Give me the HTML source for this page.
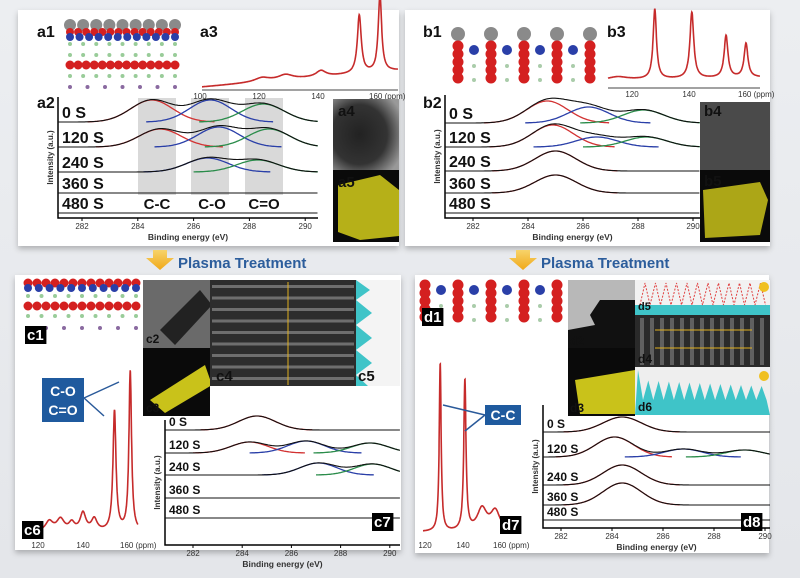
<!DOCTYPE html>
<html><head><meta charset="utf-8"><style>
html,body{margin:0;padding:0;background:#e9ebee;}
svg{display:block;font-family:"Liberation Sans",sans-serif;}
</style></head><body>
<svg id="fig" width="800" height="578" viewBox="0 0 800 578">
<defs>
<linearGradient id="bg" x1="0" y1="0" x2="0" y2="1"><stop offset="0" stop-color="#eceef1"/><stop offset="1" stop-color="#e4e6ea"/></linearGradient>
<linearGradient id="arrowG" x1="0" y1="0" x2="0" y2="1"><stop offset="0" stop-color="#f7d36a"/><stop offset="1" stop-color="#f0a818"/></linearGradient>
<radialGradient id="tem" cx="0.4" cy="0.5" r="0.7"><stop offset="0" stop-color="#222"/><stop offset="0.6" stop-color="#333"/><stop offset="1" stop-color="#999"/></radialGradient>
<filter id="sh" x="-5%" y="-5%" width="110%" height="115%"><feDropShadow dx="0" dy="3" stdDeviation="3" flood-color="#000" flood-opacity="0.25"/></filter>
</defs>
<rect width="800" height="578" fill="url(#bg)"/>
<rect x="18" y="10" width="381" height="236" fill="#fff" filter="url(#sh)"/>
<rect x="405" y="10" width="365" height="236" fill="#fff" filter="url(#sh)"/>
<rect x="15" y="275" width="386" height="275" fill="#fff" filter="url(#sh)"/>
<rect x="415" y="275" width="354" height="278" fill="#fff" filter="url(#sh)"/>

<g><path d="M153 250h14v8h7l-14 12-14-12h7z" fill="url(#arrowG)"/></g>
<text x="178" y="268" font-size="15" font-weight="bold" fill="#2c5d9c">Plasma Treatment</text>
<g><path d="M516 250h14v8h7l-14 12-14-12h7z" fill="url(#arrowG)"/></g>
<text x="541" y="268" font-size="15" font-weight="bold" fill="#2c5d9c">Plasma Treatment</text>

<g id="layer"></g>
</svg>
<script>
// ---------- DATA ----------
const timeLabels = ["0 S","120 S","240 S","360 S","480 S"];
const xpsTicks = [282,284,286,288,290];
// peaks per row: [centre eV, height px, component 0=C-C red,1=C-O blue,2=C=O green]
const xpsA = [[[284.5,22,0],[286.6,22,1],[288.5,18,2]],[[284.8,18,0],[286.9,20,1],[288.7,18,2]],[[286.5,14,1],[288.3,12,2]],[],[]];
const xpsB = [[[284.7,22,0],[286.2,16,1],[288.2,13,2]],[[284.9,22,0],[286.5,10,1],[288.3,10,2]],[[285.0,20,0]],[[285.0,18,0]],[]];
const xpsC = [[[284.6,14,0]],[[284.3,11,0],[286.6,12,1],[289.2,10,2]],[[287.1,12,1],[289.3,11,2]],[],[]];
const xpsD = [[[284.4,15,0]],[[284.1,20,0],[286.8,8,1],[289.2,7,2]],[[284.4,20,0]],[[284.4,22,0]],[]];
// NMR peaks: [ppm, height px, width ppm]
const nmrA = [[154,58,0.8],[161,76,0.7],[141,6,2],[129,5,3],[121,4,3]];
const nmrATicks = [100,120,140,160];
const nmrB = [[128,70,0.7],[141,66,0.8],[153,42,0.8],[160,34,0.8],[115,3,4]];
const nmrBTicks = [120,140,160];
const nmrC = [[154,120,0.8],[161,160,0.7],[140,18,1.5],[145,12,1.5],[130,12,2],[135,8,1.5],[125,10,2]];
const nmrCTicks = [120,140,160];
const nmrD = [[128,168,0.6],[141,150,0.7],[150,22,3],[157,20,3]];
const nmrDTicks = [120,140,160];

// ---------- helpers ----------
const NS="http://www.w3.org/2000/svg";
const L=document.getElementById('layer');
function mk(t,a,p){const e=document.createElementNS(NS,t);for(const k in a)e.setAttribute(k,a[k]);(p||L).appendChild(e);return e;}
const compCol=["#d23232","#2a3fa8","#2a8c4a"];
function gauss(x,c,s){return Math.exp(-((x-c)*(x-c))/(2*s*s));}

function xpsPanel(cfg,data,prefix){
  const sx=e=>cfg.x0+(e-282)*cfg.k;
  const ex=x=>282+(x-cfg.x0)/cfg.k;
  const eMin=ex(cfg.ax), eMax=ex(cfg.right);
  const g=mk('g',{});
  
  
  const ax=mk('path',{d:`M${cfg.ax} ${cfg.top}V${cfg.bot}H${cfg.right}`,stroke:'#000','stroke-width':1.5,fill:'none'},g);
  
  
  xpsTicks.forEach(t=>{
    mk('line',{x1:sx(t),x2:sx(t),y1:cfg.bot,y2:cfg.bot+3,stroke:'#000'},g);
    const tl=mk('text',{x:sx(t),y:cfg.bot+11,'font-size':8,'text-anchor':'middle',fill:'#333'},g);
    tl.textContent=t;
    
    
  });
  const xt=mk('text',{x:(cfg.ax+cfg.right)/2,y:cfg.bot+22,'font-size':8.5,'font-weight':'bold','text-anchor':'middle',fill:'#333'},g);
  xt.textContent='Binding energy (eV)';
  
  
  const yt=mk('text',{x:0,y:0,'font-size':8,'font-weight':'bold','text-anchor':'middle',fill:'#333',transform:`translate(${cfg.ax-5},${(cfg.top+cfg.bot)/2}) rotate(-90)`},g);
  yt.textContent='Intensity (a.u.)';
  
  
  data.forEach((row,i)=>{
    const by=cfg.base[i];
    const lab=mk('text',{x:cfg.ax+4,y:by-4,'font-size':cfg.fs,'font-weight':'bold',fill:'#111'},g);
    lab.textContent=timeLabels[i];
    
    
    row.forEach(p=>{
      let d='';
      const a=Math.max(eMin,p[0]-2.3), b=Math.min(eMax,p[0]+2.3);
      for(let e=a;e<=b;e+=0.05){d+=(d?'L':'M')+sx(e).toFixed(1)+' '+(by-p[1]*gauss(e,p[0],0.75)).toFixed(1);}
      const c=mk('path',{d,stroke:compCol[p[2]],'stroke-width':1.3,fill:'none'},g);
      
      
    });
    let d='';
    for(let e=eMin;e<=eMax;e+=0.05){let v=0;row.forEach(p=>v+=p[1]*gauss(e,p[0],0.75));d+=(d?'L':'M')+sx(e).toFixed(1)+' '+(by-v).toFixed(1);}
    const env=mk('path',{d,stroke:'#111','stroke-width':1.1,fill:'none'},g);
    
    
  });
}
function nmrPanel(cfg,peaks,ticks,prefix){
  const sx=p=>cfg.x0+(p-ticks[0])*cfg.k;
  const g=mk('g',{});
  
  
  if(cfg.axis){const a=mk('line',{x1:cfg.xa,x2:cfg.xb,y1:cfg.ay,y2:cfg.ay,stroke:'#444'},g);
    }
  ticks.forEach((t,i)=>{
    const tl=mk('text',{x:sx(t),y:cfg.ty,'font-size':8,'text-anchor':'middle',fill:'#333'},g);
    tl.textContent=t+(i==ticks.length-1?' (ppm)':'');
    if(i==ticks.length-1)tl.setAttribute('text-anchor','start'),tl.setAttribute('x',sx(t)-8);
    
    
  });
  let d='';
  const p0=ticks[0]+(cfg.xa-cfg.x0)/cfg.k, p1=ticks[0]+(cfg.xb-cfg.x0)/cfg.k;
  for(let p=p0;p<=p1;p+=0.1){
    let v=cfg.slope?cfg.slope*(p-p0):0;
    peaks.forEach(k=>v+=k[1]/(1+((p-k[0])/k[2])**2));
    d+=(d?'L':'M')+sx(p).toFixed(1)+' '+(cfg.base-v).toFixed(1);
  }
  const s=mk('path',{d,stroke:'#c62b2b','stroke-width':1.6,fill:'none'},g);
  
  
}
function label(x,y,t,box,fs){
  if(box){const r=mk('rect',{x:x-2,y:y-fs+1,width:t.length*fs*0.58+4,height:fs+3,fill:'#000'});
    }
  const e=mk('text',{x,y,'font-size':fs,'font-weight':'bold',fill:box?'#fff':'#111'});
  e.textContent=t;
  
  
}
function molecule(x,y,w,rows,prefix){
  const g=mk('g',{});
  
  
  rows.forEach(r=>{for(let i=0;i<r.n;i++)mk('circle',{cx:x+i*w/(r.n-1),cy:y+r.y,r:r.r,fill:r.c},g);});
}
function img(x,y,w,h,fill,name){const r=mk('rect',{x,y,width:w,height:h,fill});return r;}

// ---------- panel a ----------
[[138,176],[191,229],[245,283]].forEach((b,i)=>{img(b[0],98,b[1]-b[0],97,'#d9d9d9','a2-highlight-band-'+i);});
xpsPanel({x0:82,k:27.9,ax:58,top:97,bot:218,right:318,base:[122,147,172,193,213],fs:16},xpsA,'a2');
[["C-C",157],["C-O",212],["C=O",264]].forEach(c=>{const t=mk('text',{x:c[1],y:209,'font-size':15,'font-weight':'bold','text-anchor':'middle',fill:'#111'});t.textContent=c[0];});
nmrPanel({x0:200,k:2.95,xa:202,xb:398,ay:90,ty:99,base:87,slope:0.25,axis:true},nmrA,nmrATicks,'a3');
molecule(70,0,105,[{y:25,n:9,r:6,c:'#8a8a8a'},{y:32,n:14,r:4,c:'#d42020'},{y:37,n:12,r:4,c:'#2a3fa8'},{y:44,n:9,r:2,c:'#9c9'},{y:55,n:9,r:2,c:'#9c9'},{y:65,n:14,r:4.5,c:'#d42020'},{y:76,n:9,r:2,c:'#9c9'},{y:87,n:7,r:2,c:'#8a6aa0'}],'a1');
img(333,99,66,71,'url(#tem)','a4-tem-image');
img(333,170,66,72,'#0a0a0a','a5-eds-map');
mk('path',{d:'M338 185 L380 175 L399 190 L399 236 L360 240 L338 232 Z',fill:'#c9c21a',opacity:0.9});
label(37,37,'a1',false,16);label(200,37,'a3',false,16);label(37,108,'a2',false,16);
label(338,116,'a4',false,15);label(338,187,'a5',false,15);

// ---------- panel b ----------
xpsPanel({x0:473,k:27.5,ax:445,top:95,bot:218,right:700,base:[123,147,171,193,213],fs:16},xpsB,'b2');
nmrPanel({x0:632,k:2.85,xa:608,xb:760,ay:88,ty:97,base:80,slope:0.05,axis:true},nmrB,nmrBTicks,'b3');
(function(){const g=mk('g',{});
 for(let i=0;i<5;i++){const x=458+i*33;mk('circle',{cx:x,cy:34,r:7,fill:'#8a8a8a'},g);
  for(let j=0;j<5;j++)mk('circle',{cx:x,cy:46+j*8,r:5.5,fill:'#d42020'},g);
  if(i<4){mk('circle',{cx:x+16,cy:50,r:5,fill:'#2a3fa8'},g);mk('circle',{cx:x+16,cy:66,r:2,fill:'#aca'},g);mk('circle',{cx:x+16,cy:80,r:2,fill:'#aca'},g);}}})();
img(700,102,70,68,'#4a4a4a','b4-tem-image');
img(700,170,70,72,'#0a0a0a','b5-eds-map');
mk('path',{d:'M703 190 L760 182 L768 200 L760 235 L705 238 Z',fill:'#c9c21a',opacity:0.85});
label(423,37,'b1',false,16);label(607,37,'b3',false,16);label(423,108,'b2',false,16);
label(704,116,'b4',false,15);label(704,186,'b5',false,15);

// ---------- panel c ----------
molecule(28,278,108,[{y:5,n:13,r:4.5,c:'#d42020'},{y:10,n:11,r:4,c:'#2a3fa8'},{y:18,n:9,r:2,c:'#9c9'},{y:28,n:13,r:4.5,c:'#d42020'},{y:38,n:9,r:2,c:'#9c9'},{y:50,n:7,r:2,c:'#8a6aa0'}],'c1');
img(143,280,67,68,'#6a6a6a','c2-tem-image');
mk('path',{d:'M160 330 L200 290 L212 305 L175 345 Z',fill:'#222'});
img(143,348,67,68,'#0a0a0a','c3-eds-map');
mk('path',{d:'M150 400 L205 365 L212 385 L165 413 Z',fill:'#c9c21a'});
img(210,280,146,106,'#2d2d2d','c4-hrtem-image');
(function(){for(let i=0;i<9;i++){mk('rect',{x:212,y:285+i*11.5,width:142,height:3,fill:'#8a8a8a',opacity:0.7});}
 mk('line',{x1:288,x2:288,y1:282,y2:385,stroke:'#e0b020','stroke-width':1});})();
img(356,280,44,106,'#f4f4f4','c5-profile');
mk('path',{d:'M356 280 L370 290 L356 300 L372 313 L356 325 L372 338 L356 350 L372 363 L356 375 L368 386 L356 386 Z',fill:'#3fc4c8'});
xpsPanel({x0:193,k:24.6,ax:165,top:420,bot:545,right:400,base:[430,453,475,498,518],fs:12},xpsC,'c7');
nmrPanel({x0:38,k:2.25,xa:42,xb:138,ay:540,ty:548,base:532,slope:0,axis:false},nmrC,nmrCTicks,'c6');
(function(){const r=mk('rect',{x:42,y:378,width:42,height:44,fill:'#1f5a9e'});
 const t1=mk('text',{x:63,y:396,'font-size':14,'font-weight':'bold',fill:'#fff','text-anchor':'middle'});t1.textContent='C-O';
 const t2=mk('text',{x:63,y:415,'font-size':14,'font-weight':'bold',fill:'#fff','text-anchor':'middle'});t2.textContent='C=O';
 mk('path',{d:'M84 398 L119 382 M84 398 L104 416',stroke:'#2a5a9a','stroke-width':1.5,fill:'none'});})();
label(27,340,'c1',true,15);label(146,343,'c2',false,12);label(146,412,'c3',false,12);label(216,381,'c4',false,15);label(358,381,'c5',false,15);
label(24,535,'c6',true,15);label(374,527,'c7',true,15);

// ---------- panel d ----------
(function(){const g=mk('g',{});
 for(let i=0;i<5;i++){const x=425+i*33;for(let j=0;j<5;j++)mk('circle',{cx:x,cy:285+j*8,r:5.5,fill:'#d42020'},g);
  if(i<4){mk('circle',{cx:x+16,cy:290,r:5,fill:'#2a3fa8'},g);mk('circle',{cx:x+16,cy:306,r:2,fill:'#aca'},g);mk('circle',{cx:x+16,cy:320,r:2,fill:'#aca'},g);}}})();
img(568,280,67,68,'#b8b8b8','d2-tem-image');
mk('path',{d:'M600 300 L635 300 L635 350 L568 350 L568 330 L595 325 L590 315 Z',fill:'#111'});
img(568,348,67,68,'#0a0a0a','d3-eds-map');
mk('path',{d:'M575 380 L635 370 L635 414 L580 414 Z',fill:'#c9c21a'});
img(635,280,135,35,'#f2f2f2','d5-profile');
mk('rect',{x:635,y:305,width:135,height:10,fill:'#3fc4c8'});
(function(){let d='M640 305';for(let i=0;i<12;i++){d+=` L${645+i*10.5} 283 L${650+i*10.5} 305`;}mk('path',{d,stroke:'#e04040','stroke-width':1,'stroke-dasharray':'2 1.5',fill:'none'});})();
img(635,315,135,52,'#2a2a2a','d4-hrtem-image');
(function(){for(let i=0;i<13;i++)mk('rect',{x:640+i*10,y:318,width:4,height:47,fill:'#777',opacity:0.7});
 mk('line',{x1:655,x2:752,y1:330,y2:330,stroke:'#e0b020'});mk('line',{x1:655,x2:752,y1:348,y2:348,stroke:'#e0b020'});})();
img(635,367,135,48,'#eeeeee','d6-profile');
(function(){let d='M635 415';for(let i=0;i<13;i++){d+=` L${638+i*10.3} ${415-(i==0?45:35-i*0.5)} L${643+i*10.3} 400`;}d+=' L770 415 Z';mk('path',{d,fill:'#3fc4c8'});})();
mk('circle',{cx:764,cy:287,r:5,fill:'#f0c020'});mk('circle',{cx:764,cy:376,r:5,fill:'#f0c020'});
xpsPanel({x0:561,k:25.5,ax:543,top:405,bot:528,right:770,base:[432,457,485,505,520],fs:12},xpsD,'d8');
nmrPanel({x0:425,k:1.9,xa:423,xb:505,ay:540,ty:548,base:532,slope:0,axis:false},nmrD,nmrDTicks,'d7');
(function(){const r=mk('rect',{x:485,y:405,width:36,height:20,fill:'#1f5a9e'});
 const t=mk('text',{x:503,y:420,'font-size':14,'font-weight':'bold',fill:'#fff','text-anchor':'middle'});t.textContent='C-C';
 mk('path',{d:'M485 415 L443 405 M485 415 L465 431',stroke:'#2a5a9a','stroke-width':1.5,fill:'none'});})();
label(424,322,'d1',true,15);label(570,345,'d2',false,12);label(570,412,'d3',false,12);label(638,310,'d5',false,11);label(638,363,'d4',false,12);label(638,411,'d6',false,12);
label(502,530,'d7',true,15);label(743,527,'d8',true,15);
</script>
</body></html>
